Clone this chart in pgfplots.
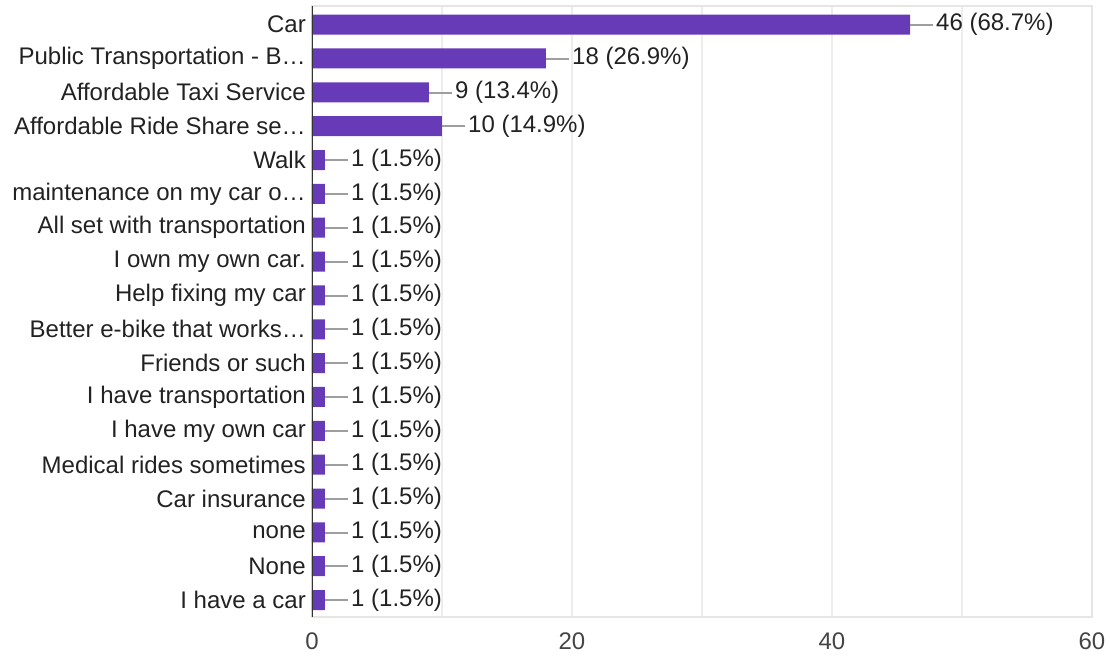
\documentclass[border=0pt]{standalone}
\usepackage{fontspec}
\setmainfont{Liberation Sans}
\usepackage{pgfplots}
\pgfplotsset{compat=1.18}
\definecolor{barc}{HTML}{673AB7}
\definecolor{gridc}{HTML}{EDEDED}
\definecolor{boxc}{HTML}{E6E6E6}
\definecolor{darkc}{HTML}{333333}
\definecolor{linec}{HTML}{9E9E9E}
\definecolor{textc}{HTML}{222222}
\definecolor{tickc}{HTML}{444444}
\newcommand\fs{\fontsize{24pt}{28pt}\selectfont}
\begin{document}
\fs
\begin{tikzpicture}
\path[use as bounding box] (-312pt,-43pt) rectangle (798pt,617pt);
\begin{axis}[
  at={(0,0)}, anchor=south west, scale only axis,
  width=780pt, height=611pt,
  xmin=0, xmax=60, ymin=-0.55, ymax=17.5, y dir=reverse,
  xbar, bar width=20pt, bar shift=0pt,
  xtick={0,20,40,60}, minor xtick={10,30,50},
  xmajorgrids, xminorgrids,
  major grid style={gridc, line width=1.5pt},
  minor grid style={gridc, line width=1.5pt},
  axis line style={boxc, line width=1.5pt},
  major tick length=0pt, minor tick length=0pt,
  tick style={draw=none},
  ytick={0,...,17},
  yticklabels={Car,Public Transportation - B…,Affordable Taxi Service,Affordable Ride Share se…,Walk,maintenance on my car o…,All set with transportation,I own my own car.,Help fixing my car,Better e-bike that works…,Friends or such,I have transportation,I have my own car,Medical rides sometimes,Car insurance,none,None,I have a car},
  yticklabel style={font=\fs, text=textc, inner sep=0pt, anchor=east, xshift=-6pt},
  xticklabel style={font=\fs, text=tickc, inner sep=0pt, anchor=north, yshift=-16pt},
  /pgf/number format/assume math mode=true,
  point meta=explicit symbolic,
  nodes near coords={\textcolor{linec}{\rule[5pt]{23pt}{2pt}}\hspace{3pt}\pgfplotspointmeta},
  every node near coord/.style={anchor=west, inner sep=0pt, text=textc, font=\fs},
]
\addplot[fill=barc, draw=none] coordinates {
  (46,0) [46 (68.7\%)]
  (18,1) [18 (26.9\%)]
  (9,2) [9 (13.4\%)]
  (10,3) [10 (14.9\%)]
  (1,4) [1 (1.5\%)]
  (1,5) [1 (1.5\%)]
  (1,6) [1 (1.5\%)]
  (1,7) [1 (1.5\%)]
  (1,8) [1 (1.5\%)]
  (1,9) [1 (1.5\%)]
  (1,10) [1 (1.5\%)]
  (1,11) [1 (1.5\%)]
  (1,12) [1 (1.5\%)]
  (1,13) [1 (1.5\%)]
  (1,14) [1 (1.5\%)]
  (1,15) [1 (1.5\%)]
  (1,16) [1 (1.5\%)]
  (1,17) [1 (1.5\%)]
};
\draw[darkc, line width=2pt] (rel axis cs:0,0) -- (rel axis cs:0,1);
\end{axis}
\end{tikzpicture}
\end{document}
